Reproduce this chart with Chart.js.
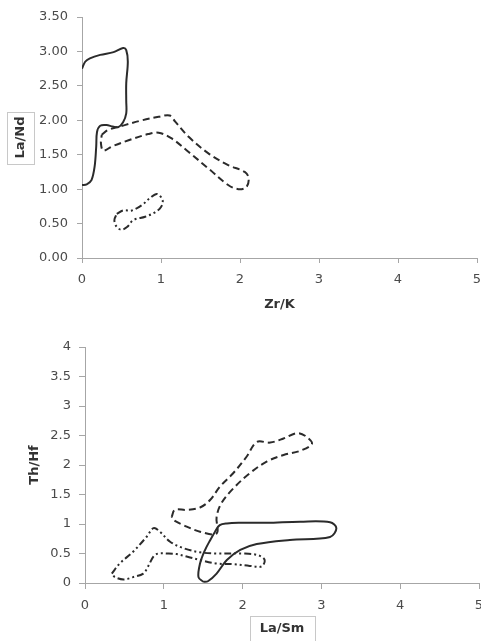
<!DOCTYPE html>
<html lang="en">
<head>
  <meta charset="UTF-8">
  <title>Zr/K vs La/Nd and La/Sm vs Th/Hf</title>
  <script src="https://cdn.jsdelivr.net/npm/chart.js"></script>
  <style>
    body { margin: 0; background: #fff; }
    canvas { position: absolute; left: 0; }
    #topChart { top: 0; }
    #bottomChart { top: 320px; }
  </style>
</head>
<body>
<canvas id="topChart" width="481" height="320"></canvas>
<canvas id="bottomChart" width="481" height="321"></canvas>

<script>
  // top panel: La/Nd against Zr/K
  const zrTicks = [0, 1, 2, 3, 4, 5];
  const laNdTicks = [0, 0.5, 1, 1.5, 2, 2.5, 3, 3.5];

  const solidZr = [0, 0.06, 0.12, 0.16, 0.18, 0.19, 0.23, 0.31, 0.39, 0.46, 0.52, 0.56, 0.56, 0.56, 0.58, 0.56, 0.52, 0.40, 0.23, 0.10, 0.04, 0];
  const solidLaNd = [1.06, 1.07, 1.13, 1.33, 1.62, 1.83, 1.92, 1.93, 1.91, 1.90, 1.97, 2.10, 2.28, 2.54, 2.85, 3.02, 3.05, 2.99, 2.95, 2.90, 2.85, 2.75];

  const dashZr = [0.25, 0.33, 0.54, 0.76, 0.97, 1.11, 1.18, 1.35, 1.60, 1.85, 2.06, 2.11, 2.08, 1.98, 1.85, 1.60, 1.35, 1.13, 0.97, 0.84, 0.59, 0.38, 0.27, 0.24, 0.25];
  const dashLaNd = [1.79, 1.86, 1.93, 2.00, 2.05, 2.07, 1.98, 1.76, 1.52, 1.35, 1.25, 1.16, 1.03, 1.00, 1.06, 1.30, 1.54, 1.74, 1.82, 1.80, 1.71, 1.62, 1.56, 1.66, 1.79];

  const dotZr = [0.44, 0.52, 0.63, 0.76, 0.86, 0.95, 1.02, 1.00, 0.92, 0.80, 0.65, 0.57, 0.50, 0.44, 0.41, 0.44];
  const dotLaNd = [0.64, 0.69, 0.69, 0.77, 0.87, 0.93, 0.84, 0.74, 0.66, 0.60, 0.55, 0.45, 0.41, 0.45, 0.55, 0.64];

  // bottom panel: Th/Hf against La/Sm
  const laSmTicks = [0, 1, 2, 3, 4, 5];
  const thHfTicks = [0, 0.5, 1, 1.5, 2, 2.5, 3, 3.5, 4];

  const solidLaSm = [1.50, 1.44, 1.46, 1.52, 1.59, 1.65, 1.71, 1.80, 1.97, 2.31, 2.73, 3.11, 3.19, 3.11, 2.60, 2.18, 1.97, 1.80, 1.67, 1.56, 1.50];
  const solidThHf = [0.02, 0.10, 0.33, 0.55, 0.73, 0.87, 0.98, 1.01, 1.02, 1.02, 1.04, 1.03, 0.93, 0.78, 0.73, 0.66, 0.56, 0.39, 0.16, 0.03, 0.02];

  const dashLaSm = [1.10, 1.14, 1.29, 1.46, 1.59, 1.71, 1.88, 2.05, 2.18, 2.35, 2.52, 2.69, 2.81, 2.88, 2.73, 2.52, 2.31, 2.09, 1.88, 1.73, 1.67, 1.67, 1.46, 1.25, 1.12, 1.10];
  const dashThHf = [1.12, 1.24, 1.24, 1.28, 1.41, 1.63, 1.86, 2.14, 2.39, 2.38, 2.45, 2.54, 2.48, 2.36, 2.24, 2.17, 2.06, 1.86, 1.60, 1.35, 1.12, 0.84, 0.87, 0.98, 1.07, 1.12];

  const dotLaSm = [0.34, 0.44, 0.61, 0.78, 0.87, 0.95, 1.08, 1.25, 1.46, 1.67, 2.01, 2.20, 2.28, 2.24, 2.09, 1.88, 1.67, 1.46, 1.29, 1.16, 1.04, 0.93, 0.87, 0.80, 0.74, 0.61, 0.49, 0.38, 0.34];
  const dotThHf = [0.16, 0.33, 0.53, 0.78, 0.93, 0.87, 0.70, 0.59, 0.52, 0.50, 0.50, 0.47, 0.39, 0.28, 0.29, 0.32, 0.33, 0.39, 0.45, 0.49, 0.50, 0.50, 0.45, 0.28, 0.16, 0.10, 0.06, 0.10, 0.16];

  const INK = '#2b2b2b';
  const AXIS = '#a6a6a6';
  const TICKFONT = { family: 'DejaVu Sans', size: 13 };
  const TITLEFONT = { family: 'DejaVu Sans', size: 13, weight: 'bold' };

  function pts(xs, ys) {
    return xs.map((x, i) => ({ x: x, y: ys[i] }));
  }

  function outline(xs, ys, dash) {
    return {
      data: pts(xs, ys),
      showLine: true,
      borderColor: INK,
      borderWidth: 2,
      borderDash: dash,
      pointRadius: 0,
      tension: 0.35,
      fill: false
    };
  }

  // thin grey frame round an axis title
  const titleBox = {
    id: 'titleBox',
    afterDraw(chart, args, opts) {
      if (!opts.axis) return;
      const scale = chart.scales[opts.axis];
      const t = scale.options.title;
      const ctx = chart.ctx;
      const lh = TITLEFONT.size * 1.2;
      ctx.save();
      ctx.font = 'bold ' + TITLEFONT.size + 'px "DejaVu Sans"';
      const len = Math.round(ctx.measureText(t.text).width + opts.pad * 2);
      ctx.strokeStyle = '#c8c8c8';
      ctx.lineWidth = 1;
      if (scale.isHorizontal()) {
        const cx = (scale.left + scale.right) / 2;
        const cy = scale.bottom - opts.titlePad - lh / 2;
        ctx.strokeRect(Math.round(cx - len / 2) + 0.5, Math.round(cy - opts.thick / 2) + 0.5, len, opts.thick);
      } else {
        const cx = scale.left + opts.titlePad + lh / 2;
        const cy = (scale.top + scale.bottom) / 2;
        ctx.strokeRect(Math.round(cx - opts.thick / 2) + 0.5, Math.round(cy - len / 2) + 0.5, opts.thick, len);
      }
      ctx.restore();
    }
  };

  function axis(ticks, label, fmt, tickLen, tickPad, titlePad, size, horizontal) {
    return {
      type: 'linear',
      min: ticks[0],
      max: ticks[ticks.length - 1],
      afterBuildTicks: s => { s.ticks = ticks.map(v => ({ value: v })); },
      afterFit: s => {
        if (horizontal) {
          s.height = size;
          s.paddingLeft = 0;
          s.paddingRight = 0;
        } else {
          s.width = size;
        }
      },
      border: { display: true, color: AXIS, width: 1 },
      grid: { display: true, drawOnChartArea: false, drawTicks: true, tickLength: tickLen, color: AXIS },
      ticks: { color: '#4a4a4a', font: TICKFONT, padding: tickPad, callback: fmt, maxRotation: 0, autoSkip: false },
      title: {
        display: true,
        text: label,
        color: '#333',
        font: TITLEFONT,
        padding: horizontal ? { top: 0, bottom: titlePad } : { top: titlePad, bottom: 0 }
      }
    };
  }

  function createChart(el, datasets, xScale, yScale, padding, box) {
    new Chart(el, {
      type: 'scatter',
      data: { datasets: datasets },
      options: {
        responsive: false,
        animation: false,
        layout: { padding: padding },
        plugins: {
          legend: { display: false },
          tooltip: { enabled: false },
          titleBox: box
        },
        scales: { x: xScale, y: yScale }
      },
      plugins: [titleBox]
    });
  }

  createChart(
    document.getElementById('topChart'),
    [
      outline(solidZr, solidLaNd, []),
      outline(dashZr, dashLaNd, [7, 4]),
      outline(dotZr, dotLaNd, [7, 3, 2, 3, 2, 3])
    ],
    axis(zrTicks, 'Zr/K', v => String(v), 5, 9, 8, 62, true),
    axis(laNdTicks, 'La/Nd', v => v.toFixed(2), 5, 9, 13, 82, false),
    { left: 0, right: 4, top: 17, bottom: 0 },
    { axis: 'y', pad: 5, thick: 27, titlePad: 13 }
  );

  createChart(
    document.getElementById('bottomChart'),
    [
      outline(solidLaSm, solidThHf, []),
      outline(dashLaSm, dashThHf, [7, 4]),
      outline(dotLaSm, dotThHf, [7, 3, 2, 3, 2, 3])
    ],
    axis(laSmTicks, 'La/Sm', v => String(v), 6, 9, 5, 58, true),
    axis(thHfTicks, 'Th/Hf', v => String(v), 6, 8, 27, 85, false),
    { left: 0, right: 2, top: 27, bottom: 0 },
    { axis: 'x', pad: 10, thick: 25, titlePad: 5 }
  );
</script>
</body>
</html>
